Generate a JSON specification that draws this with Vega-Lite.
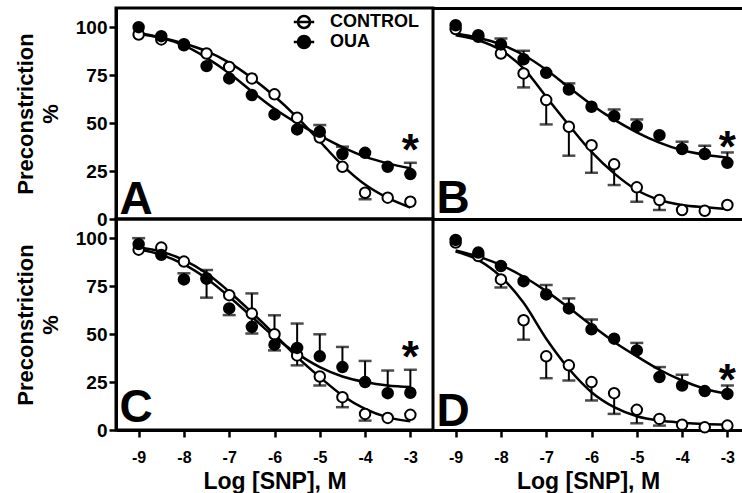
{
"$schema": "https://vega.github.io/schema/vega-lite/v6.json",
"background": "white",
"padding": {"left": 12, "top": 6, "right": 0, "bottom": 0},
"bounds": "flush",
"spacing": 0,
"columns": 2,
"align": "each",
"config": {
  "view": {"stroke": "black", "strokeWidth": 3},
  "axis": {"domainColor": "black", "domainWidth": 3, "tickColor": "black", "tickWidth": 2.5, "labelColor": "black", "labelFont": "Liberation Sans", "labelFontWeight": "bold", "titleFont": "Liberation Sans", "titleFontWeight": "bold", "titleColor": "black", "grid": false, "labelFlush": false, "labelOverlap": false},
  "axisY": {"labelFontSize": 19, "tickSize": 7, "labelPadding": 2, "titleFontSize": 22, "titleLineHeight": 25, "titlePadding": 13},
  "axisX": {"labelFontSize": 16, "labelPadding": 12, "titleFontSize": 23, "titlePadding": 5}
},
"datasets": {
"pts": [
{"p":"A","g":"CONTROL","x":-9,"y":96.2},{"p":"A","g":"CONTROL","x":-8.5,"y":93.6},{"p":"A","g":"CONTROL","x":-8,"y":90.6},{"p":"A","g":"CONTROL","x":-7.5,"y":86.3},{"p":"A","g":"CONTROL","x":-7,"y":79.3},{"p":"A","g":"CONTROL","x":-6.5,"y":73.3},{"p":"A","g":"CONTROL","x":-6,"y":65},{"p":"A","g":"CONTROL","x":-5.5,"y":52.8},{"p":"A","g":"CONTROL","x":-5,"y":42.5},{"p":"A","g":"CONTROL","x":-4.5,"y":27.2},{"p":"A","g":"CONTROL","x":-4,"y":13.7},{"p":"A","g":"CONTROL","x":-3.5,"y":11.1},{"p":"A","g":"CONTROL","x":-3,"y":9},
{"p":"A","g":"OUA","x":-9,"y":100},{"p":"A","g":"OUA","x":-8.5,"y":95.3},{"p":"A","g":"OUA","x":-8,"y":91.1},{"p":"A","g":"OUA","x":-7.5,"y":79.7},{"p":"A","g":"OUA","x":-7,"y":73.3},{"p":"A","g":"OUA","x":-6.5,"y":64.6},{"p":"A","g":"OUA","x":-6,"y":54.5},{"p":"A","g":"OUA","x":-5.5,"y":46.7},{"p":"A","g":"OUA","x":-5,"y":45.5},{"p":"A","g":"OUA","x":-4.5,"y":33.9},{"p":"A","g":"OUA","x":-4,"y":34.5},{"p":"A","g":"OUA","x":-3.5,"y":27.2},{"p":"A","g":"OUA","x":-3,"y":23.4},
{"p":"B","g":"CONTROL","x":-9,"y":99},{"p":"B","g":"CONTROL","x":-8.5,"y":95},{"p":"B","g":"CONTROL","x":-8,"y":86.3},{"p":"B","g":"CONTROL","x":-7.5,"y":75.9},{"p":"B","g":"CONTROL","x":-7,"y":62},{"p":"B","g":"CONTROL","x":-6.5,"y":48.1},{"p":"B","g":"CONTROL","x":-6,"y":38.5},{"p":"B","g":"CONTROL","x":-5.5,"y":28.5},{"p":"B","g":"CONTROL","x":-5,"y":16.5},{"p":"B","g":"CONTROL","x":-4.5,"y":9.9},{"p":"B","g":"CONTROL","x":-4,"y":4.7},{"p":"B","g":"CONTROL","x":-3.5,"y":4.3},{"p":"B","g":"CONTROL","x":-3,"y":7.3},
{"p":"B","g":"OUA","x":-9,"y":101},{"p":"B","g":"OUA","x":-8.5,"y":95.8},{"p":"B","g":"OUA","x":-8,"y":91},{"p":"B","g":"OUA","x":-7.5,"y":83.3},{"p":"B","g":"OUA","x":-7,"y":76.2},{"p":"B","g":"OUA","x":-6.5,"y":67.5},{"p":"B","g":"OUA","x":-6,"y":58.5},{"p":"B","g":"OUA","x":-5.5,"y":53.6},{"p":"B","g":"OUA","x":-5,"y":48.4},{"p":"B","g":"OUA","x":-4.5,"y":43.7},{"p":"B","g":"OUA","x":-4,"y":36.5},{"p":"B","g":"OUA","x":-3.5,"y":33.9},{"p":"B","g":"OUA","x":-3,"y":29.3},
{"p":"C","g":"CONTROL","x":-9,"y":94},{"p":"C","g":"CONTROL","x":-8.5,"y":95.1},{"p":"C","g":"CONTROL","x":-8,"y":87.8},{"p":"C","g":"CONTROL","x":-7.5,"y":79},{"p":"C","g":"CONTROL","x":-7,"y":70.3},{"p":"C","g":"CONTROL","x":-6.5,"y":60.7},{"p":"C","g":"CONTROL","x":-6,"y":49.9},{"p":"C","g":"CONTROL","x":-5.5,"y":38.9},{"p":"C","g":"CONTROL","x":-5,"y":27.9},{"p":"C","g":"CONTROL","x":-4.5,"y":17.1},{"p":"C","g":"CONTROL","x":-4,"y":8.4},{"p":"C","g":"CONTROL","x":-3.5,"y":6.3},{"p":"C","g":"CONTROL","x":-3,"y":7.9},
{"p":"C","g":"OUA","x":-9,"y":96.9},{"p":"C","g":"OUA","x":-8.5,"y":91.3},{"p":"C","g":"OUA","x":-8,"y":78.5},{"p":"C","g":"OUA","x":-7.5,"y":79},{"p":"C","g":"OUA","x":-7,"y":63.4},{"p":"C","g":"OUA","x":-6.5,"y":53.8},{"p":"C","g":"OUA","x":-6,"y":44.5},{"p":"C","g":"OUA","x":-5.5,"y":42.8},{"p":"C","g":"OUA","x":-5,"y":38.4},{"p":"C","g":"OUA","x":-4.5,"y":32.8},{"p":"C","g":"OUA","x":-4,"y":25},{"p":"C","g":"OUA","x":-3.5,"y":19.2},{"p":"C","g":"OUA","x":-3,"y":19.4},
{"p":"D","g":"CONTROL","x":-9,"y":97.7},{"p":"D","g":"CONTROL","x":-8.5,"y":90.7},{"p":"D","g":"CONTROL","x":-8,"y":78.5},{"p":"D","g":"CONTROL","x":-7.5,"y":57.2},{"p":"D","g":"CONTROL","x":-7,"y":38.4},{"p":"D","g":"CONTROL","x":-6.5,"y":33.7},{"p":"D","g":"CONTROL","x":-6,"y":25},{"p":"D","g":"CONTROL","x":-5.5,"y":19.2},{"p":"D","g":"CONTROL","x":-5,"y":10.5},{"p":"D","g":"CONTROL","x":-4.5,"y":5.8},{"p":"D","g":"CONTROL","x":-4,"y":2.8},{"p":"D","g":"CONTROL","x":-3.5,"y":1.4},{"p":"D","g":"CONTROL","x":-3,"y":2.3},
{"p":"D","g":"OUA","x":-9,"y":99.1},{"p":"D","g":"OUA","x":-8.5,"y":92.5},{"p":"D","g":"OUA","x":-8,"y":85.5},{"p":"D","g":"OUA","x":-7.5,"y":77.6},{"p":"D","g":"OUA","x":-7,"y":70.7},{"p":"D","g":"OUA","x":-6.5,"y":63.4},{"p":"D","g":"OUA","x":-6,"y":52.5},{"p":"D","g":"OUA","x":-5.5,"y":47.6},{"p":"D","g":"OUA","x":-5,"y":41.5},{"p":"D","g":"OUA","x":-4.5,"y":27.6},{"p":"D","g":"OUA","x":-4,"y":23.2},{"p":"D","g":"OUA","x":-3.5,"y":20.3},{"p":"D","g":"OUA","x":-3,"y":18.8}
],
"fit": [
{"p":"A","g":"CONTROL","x":-9,"y":96.5},{"p":"A","g":"CONTROL","x":-8.5,"y":94.5},{"p":"A","g":"CONTROL","x":-8,"y":91.5},{"p":"A","g":"CONTROL","x":-7.5,"y":87.5},{"p":"A","g":"CONTROL","x":-7,"y":81.5},{"p":"A","g":"CONTROL","x":-6.5,"y":73.5},{"p":"A","g":"CONTROL","x":-6,"y":64},{"p":"A","g":"CONTROL","x":-5.5,"y":53},{"p":"A","g":"CONTROL","x":-5,"y":40.5},{"p":"A","g":"CONTROL","x":-4.5,"y":28},{"p":"A","g":"CONTROL","x":-4,"y":18},{"p":"A","g":"CONTROL","x":-3.5,"y":11},{"p":"A","g":"CONTROL","x":-3,"y":6},
{"p":"A","g":"OUA","x":-9,"y":97},{"p":"A","g":"OUA","x":-8.5,"y":94.5},{"p":"A","g":"OUA","x":-8,"y":90.5},{"p":"A","g":"OUA","x":-7.5,"y":84},{"p":"A","g":"OUA","x":-7,"y":76},{"p":"A","g":"OUA","x":-6.5,"y":66.5},{"p":"A","g":"OUA","x":-6,"y":57.5},{"p":"A","g":"OUA","x":-5.5,"y":50},{"p":"A","g":"OUA","x":-5,"y":43.5},{"p":"A","g":"OUA","x":-4.5,"y":37.5},{"p":"A","g":"OUA","x":-4,"y":32.5},{"p":"A","g":"OUA","x":-3.5,"y":29},{"p":"A","g":"OUA","x":-3,"y":26.5},
{"p":"B","g":"CONTROL","x":-9,"y":95.8},{"p":"B","g":"CONTROL","x":-8.5,"y":93.2},{"p":"B","g":"CONTROL","x":-8,"y":88},{"p":"B","g":"CONTROL","x":-7.5,"y":78.5},{"p":"B","g":"CONTROL","x":-7,"y":63.7},{"p":"B","g":"CONTROL","x":-6.5,"y":49},{"p":"B","g":"CONTROL","x":-6,"y":35},{"p":"B","g":"CONTROL","x":-5.5,"y":23.8},{"p":"B","g":"CONTROL","x":-5,"y":15.1},{"p":"B","g":"CONTROL","x":-4.5,"y":9.9},{"p":"B","g":"CONTROL","x":-4,"y":7.3},{"p":"B","g":"CONTROL","x":-3.5,"y":6.1},{"p":"B","g":"CONTROL","x":-3,"y":5.2},
{"p":"B","g":"OUA","x":-9,"y":96.7},{"p":"B","g":"OUA","x":-8.5,"y":94.5},{"p":"B","g":"OUA","x":-8,"y":91},{"p":"B","g":"OUA","x":-7.5,"y":85.5},{"p":"B","g":"OUA","x":-7,"y":77.8},{"p":"B","g":"OUA","x":-6.5,"y":68.6},{"p":"B","g":"OUA","x":-6,"y":59.6},{"p":"B","g":"OUA","x":-5.5,"y":51.8},{"p":"B","g":"OUA","x":-5,"y":45.2},{"p":"B","g":"OUA","x":-4.5,"y":39.8},{"p":"B","g":"OUA","x":-4,"y":35.8},{"p":"B","g":"OUA","x":-3.5,"y":33.5},{"p":"B","g":"OUA","x":-3,"y":32},
{"p":"C","g":"CONTROL","x":-9,"y":95.1},{"p":"C","g":"CONTROL","x":-8.5,"y":93},{"p":"C","g":"CONTROL","x":-8,"y":88.6},{"p":"C","g":"CONTROL","x":-7.5,"y":81.7},{"p":"C","g":"CONTROL","x":-7,"y":72.1},{"p":"C","g":"CONTROL","x":-6.5,"y":61.3},{"p":"C","g":"CONTROL","x":-6,"y":49.9},{"p":"C","g":"CONTROL","x":-5.5,"y":38},{"p":"C","g":"CONTROL","x":-5,"y":27.6},{"p":"C","g":"CONTROL","x":-4.5,"y":18},{"p":"C","g":"CONTROL","x":-4,"y":11},{"p":"C","g":"CONTROL","x":-3.5,"y":6.6},{"p":"C","g":"CONTROL","x":-3,"y":4.5},
{"p":"C","g":"OUA","x":-9,"y":94.2},{"p":"C","g":"OUA","x":-8.5,"y":91.3},{"p":"C","g":"OUA","x":-8,"y":86.4},{"p":"C","g":"OUA","x":-7.5,"y":79},{"p":"C","g":"OUA","x":-7,"y":69.5},{"p":"C","g":"OUA","x":-6.5,"y":59},{"p":"C","g":"OUA","x":-6,"y":48.5},{"p":"C","g":"OUA","x":-5.5,"y":39.8},{"p":"C","g":"OUA","x":-5,"y":32.8},{"p":"C","g":"OUA","x":-4.5,"y":27.9},{"p":"C","g":"OUA","x":-4,"y":25},{"p":"C","g":"OUA","x":-3.5,"y":23.2},{"p":"C","g":"OUA","x":-3,"y":22.4},
{"p":"D","g":"CONTROL","x":-9,"y":93},{"p":"D","g":"CONTROL","x":-8.5,"y":88.6},{"p":"D","g":"CONTROL","x":-8,"y":79.9},{"p":"D","g":"CONTROL","x":-7.5,"y":66.3},{"p":"D","g":"CONTROL","x":-7,"y":47.6},{"p":"D","g":"CONTROL","x":-6.5,"y":31.9},{"p":"D","g":"CONTROL","x":-6,"y":19.7},{"p":"D","g":"CONTROL","x":-5.5,"y":11.9},{"p":"D","g":"CONTROL","x":-5,"y":7.2},{"p":"D","g":"CONTROL","x":-4.5,"y":4.9},{"p":"D","g":"CONTROL","x":-4,"y":3.8},{"p":"D","g":"CONTROL","x":-3.5,"y":3.1},{"p":"D","g":"CONTROL","x":-3,"y":2.8},
{"p":"D","g":"OUA","x":-9,"y":93.6},{"p":"D","g":"OUA","x":-8.5,"y":90.4},{"p":"D","g":"OUA","x":-8,"y":86},{"p":"D","g":"OUA","x":-7.5,"y":79.9},{"p":"D","g":"OUA","x":-7,"y":72.4},{"p":"D","g":"OUA","x":-6.5,"y":63.7},{"p":"D","g":"OUA","x":-6,"y":54.6},{"p":"D","g":"OUA","x":-5.5,"y":45.9},{"p":"D","g":"OUA","x":-5,"y":38.4},{"p":"D","g":"OUA","x":-4.5,"y":31.4},{"p":"D","g":"OUA","x":-4,"y":25.8},{"p":"D","g":"OUA","x":-3.5,"y":21.5},{"p":"D","g":"OUA","x":-3,"y":18.8}
],
"err": [
{"p":"A","g":"OUA","x":-5,"y":45.5,"cap":49},{"p":"A","g":"OUA","x":-4.5,"y":33.9,"cap":37.7},{"p":"A","g":"OUA","x":-3,"y":23.4,"cap":29.3},{"p":"A","g":"CONTROL","x":-4,"y":13.7,"cap":10.3},
{"p":"B","g":"OUA","x":-8,"y":91,"cap":94.1},{"p":"B","g":"OUA","x":-7.5,"y":83.3,"cap":87.7},{"p":"B","g":"OUA","x":-6.5,"y":67.5,"cap":70.7},{"p":"B","g":"OUA","x":-5.5,"y":53.6,"cap":57.1},{"p":"B","g":"OUA","x":-5,"y":48.4,"cap":51.9},{"p":"B","g":"OUA","x":-4,"y":36.5,"cap":40.3},{"p":"B","g":"OUA","x":-3.5,"y":33.9,"cap":38.2},{"p":"B","g":"OUA","x":-3,"y":29.3,"cap":34.7},
{"p":"B","g":"CONTROL","x":-7.5,"y":75.9,"cap":68.6},{"p":"B","g":"CONTROL","x":-7,"y":62,"cap":49.3},{"p":"B","g":"CONTROL","x":-6.5,"y":48.1,"cap":33},{"p":"B","g":"CONTROL","x":-6,"y":38.5,"cap":24.1},{"p":"B","g":"CONTROL","x":-5.5,"y":28.5,"cap":17.7},{"p":"B","g":"CONTROL","x":-5,"y":16.5,"cap":9},{"p":"B","g":"CONTROL","x":-4.5,"y":9.9,"cap":4.7},
{"p":"C","g":"OUA","x":-9,"y":96.9,"cap":100},{"p":"C","g":"OUA","x":-8,"y":78.5,"cap":81.7},{"p":"C","g":"OUA","x":-7.5,"y":79,"cap":83.4},{"p":"C","g":"OUA","x":-7,"y":63.4,"cap":59.9},{"p":"C","g":"OUA","x":-6.5,"y":53.8,"cap":71.2},{"p":"C","g":"OUA","x":-6.5,"y":53.8,"cap":50.3},{"p":"C","g":"OUA","x":-6,"y":44.5,"cap":41.5},{"p":"C","g":"OUA","x":-5.5,"y":42.8,"cap":55.5},{"p":"C","g":"OUA","x":-5,"y":38.4,"cap":49.9},{"p":"C","g":"OUA","x":-4.5,"y":32.8,"cap":43.3},{"p":"C","g":"OUA","x":-4,"y":25,"cap":36},{"p":"C","g":"OUA","x":-3.5,"y":19.2,"cap":31},{"p":"C","g":"OUA","x":-3,"y":19.4,"cap":31.4},
{"p":"C","g":"CONTROL","x":-7.5,"y":79,"cap":69},{"p":"C","g":"CONTROL","x":-6,"y":49.9,"cap":59.8},{"p":"C","g":"CONTROL","x":-5.5,"y":38.9,"cap":33.7},{"p":"C","g":"CONTROL","x":-5,"y":27.9,"cap":23.2},{"p":"C","g":"CONTROL","x":-4.5,"y":17.1,"cap":11.9},{"p":"C","g":"CONTROL","x":-4,"y":8.4,"cap":4.9},
{"p":"D","g":"OUA","x":-7,"y":70.7,"cap":75.6},{"p":"D","g":"OUA","x":-6.5,"y":63.4,"cap":68.6},{"p":"D","g":"OUA","x":-6,"y":52.5,"cap":57.6},{"p":"D","g":"OUA","x":-5,"y":41.5,"cap":45.4},{"p":"D","g":"OUA","x":-4.5,"y":27.6,"cap":32.8},{"p":"D","g":"OUA","x":-4,"y":23.2,"cap":28.8},{"p":"D","g":"OUA","x":-3,"y":18.8,"cap":23.2},
{"p":"D","g":"CONTROL","x":-8,"y":78.5,"cap":74.3},{"p":"D","g":"CONTROL","x":-7.5,"y":57.2,"cap":47.1},{"p":"D","g":"CONTROL","x":-7,"y":38.4,"cap":27},{"p":"D","g":"CONTROL","x":-6.5,"y":33.7,"cap":25.8},{"p":"D","g":"CONTROL","x":-6,"y":25,"cap":15.4},{"p":"D","g":"CONTROL","x":-5.5,"y":19.2,"cap":8.4},{"p":"D","g":"CONTROL","x":-5,"y":10.5,"cap":3.5},{"p":"D","g":"CONTROL","x":-4.5,"y":5.8,"cap":2.3}
]
},
"concat": [
{
 "width": 317, "height": 211,
 "layer": [
  {"data": {"name": "fit"}, "transform": [{"filter": "datum.p === 'A'"}], "mark": {"type": "line", "interpolate": "monotone", "color": "black", "strokeWidth": 2.5},
   "encoding": {"x": {"field": "x", "type": "quantitative", "scale": {"domain": [-9.5, -2.5], "nice": false, "zero": false}, "axis": null},
                "y": {"field": "y", "type": "quantitative", "scale": {"domain": [0, 110], "nice": false, "zero": false}, "axis": {"values": [0, 25, 50, 75, 100], "title": ["Preconstriction", "%"]}},
                "detail": {"field": "g"}}},
  {"data": {"name": "err"}, "transform": [{"filter": "datum.p === 'A'"}], "mark": {"type": "rule", "color": "black", "strokeWidth": 2},
   "encoding": {"x": {"field": "x", "type": "quantitative", "axis": null}, "y": {"field": "y", "type": "quantitative"}, "y2": {"field": "cap"}}},
  {"data": {"name": "err"}, "transform": [{"filter": "datum.p === 'A'"}], "mark": {"type": "tick", "orient": "horizontal", "color": "black", "size": 13, "thickness": 2.5},
   "encoding": {"x": {"field": "x", "type": "quantitative", "axis": null}, "y": {"field": "cap", "type": "quantitative"}}},
  {"data": {"name": "pts"}, "transform": [{"filter": "datum.p === 'A'"}], "mark": {"type": "point", "shape": "circle", "filled": true, "size": 110, "stroke": "black", "strokeWidth": 2, "opacity": 1},
   "encoding": {"x": {"field": "x", "type": "quantitative", "axis": null}, "y": {"field": "y", "type": "quantitative"},
                "fill": {"field": "g", "type": "nominal", "scale": {"domain": ["CONTROL", "OUA"], "range": ["white", "black"]},
                         "legend": {"orient": "none", "legendX": 179, "legendY": 5, "title": null, "symbolType": "M-1.7,0L1.7,0M1,0A1,1,0,1,1,-1,0A1,1,0,1,1,1,0Z", "symbolSize": 144, "symbolStrokeColor": "black", "symbolStrokeWidth": 2.5, "symbolOpacity": 1, "labelOffset": 17, "rowPadding": -8, "padding": 0, "labelFontSize": 18, "labelFont": "Liberation Sans", "labelFontWeight": "bold", "labelColor": "black"}},
                "order": {"field": "g", "sort": "ascending"}}},
  {"data": {"values": [{}]}, "mark": {"type": "text", "font": "Liberation Sans", "fontWeight": "bold", "fontSize": 46, "align": "left", "baseline": "alphabetic", "color": "black"},
   "encoding": {"x": {"datum": -9.42}, "y": {"datum": 2.5}, "text": {"value": "A"}}},
  {"data": {"values": [{}]}, "mark": {"type": "text", "font": "Liberation Sans", "fontWeight": "bold", "fontSize": 44, "align": "center", "baseline": "alphabetic", "color": "black"},
   "encoding": {"x": {"datum": -3}, "y": {"datum": 28.1}, "text": {"value": "*"}}}
 ]
},
{
 "width": 310, "height": 211,
 "view": {"stroke": null},
 "resolve": {"axis": {"x": "independent"}},
 "layer": [
  {"data": {"name": "fit"}, "transform": [{"filter": "datum.p === 'B'"}], "mark": {"type": "line", "interpolate": "monotone", "color": "black", "strokeWidth": 2.5},
   "encoding": {"x": {"field": "x", "type": "quantitative", "scale": {"domain": [-9.5, -2.655], "nice": false, "zero": false}, "axis": {"orient": "bottom", "domain": true, "ticks": false, "labels": false, "title": null}},
                "y": {"field": "y", "type": "quantitative", "scale": {"domain": [0, 110], "nice": false, "zero": false}, "axis": null},
                "detail": {"field": "g"}}},
  {"data": {"name": "err"}, "transform": [{"filter": "datum.p === 'B'"}], "mark": {"type": "rule", "color": "black", "strokeWidth": 2},
   "encoding": {"x": {"field": "x", "type": "quantitative", "axis": null}, "y": {"field": "y", "type": "quantitative", "axis": null}, "y2": {"field": "cap"}}},
  {"data": {"name": "err"}, "transform": [{"filter": "datum.p === 'B'"}], "mark": {"type": "tick", "orient": "horizontal", "color": "black", "size": 13, "thickness": 2.5},
   "encoding": {"x": {"field": "x", "type": "quantitative", "axis": null}, "y": {"field": "cap", "type": "quantitative", "axis": null}}},
  {"data": {"name": "pts"}, "transform": [{"filter": "datum.p === 'B'"}], "mark": {"type": "point", "shape": "circle", "filled": true, "size": 110, "stroke": "black", "strokeWidth": 2, "opacity": 1},
   "encoding": {"x": {"field": "x", "type": "quantitative", "axis": {"orient": "top", "domain": true, "ticks": false, "labels": false, "title": null}}, "y": {"field": "y", "type": "quantitative", "axis": null},
                "fill": {"field": "g", "type": "nominal", "scale": {"domain": ["CONTROL", "OUA"], "range": ["white", "black"]},
                         "legend": {"orient": "none", "legendX": 179, "legendY": 5, "title": null, "symbolType": "M-1.7,0L1.7,0M1,0A1,1,0,1,1,-1,0A1,1,0,1,1,1,0Z", "symbolSize": 144, "symbolStrokeColor": "black", "symbolStrokeWidth": 2.5, "symbolOpacity": 1, "labelOffset": 17, "rowPadding": -8, "padding": 0, "labelFontSize": 18, "labelFont": "Liberation Sans", "labelFontWeight": "bold", "labelColor": "black"}},
                "order": {"field": "g", "sort": "ascending"}}},
  {"data": {"values": [{}]}, "mark": {"type": "text", "font": "Liberation Sans", "fontWeight": "bold", "fontSize": 46, "align": "left", "baseline": "alphabetic", "color": "black"},
   "encoding": {"x": {"datum": -9.42, "axis": null}, "y": {"datum": 3, "axis": null}, "text": {"value": "B"}}},
  {"data": {"values": [{}]}, "mark": {"type": "text", "font": "Liberation Sans", "fontWeight": "bold", "fontSize": 44, "align": "center", "baseline": "alphabetic", "color": "black"},
   "encoding": {"x": {"datum": -3, "axis": null}, "y": {"datum": 29.8, "axis": null}, "text": {"value": "*"}}}
 ]
},
{
 "width": 317, "height": 211,
 "layer": [
  {"data": {"name": "fit"}, "transform": [{"filter": "datum.p === 'C'"}], "mark": {"type": "line", "interpolate": "monotone", "color": "black", "strokeWidth": 2.5},
   "encoding": {"x": {"field": "x", "type": "quantitative", "scale": {"domain": [-9.5, -2.5], "nice": false, "zero": false}, "axis": {"values": [-9, -8.5, -8, -7.5, -7, -6.5, -6, -5.5, -5, -4.5, -4, -3.5, -3], "labelExpr": "datum.value % 1 === 0 ? '-' + abs(datum.value) : ''", "tickSize": {"condition": {"test": "datum.value % 1 === 0", "value": 7}, "value": 4}, "title": "Log [SNP], M"}},
                "y": {"field": "y", "type": "quantitative", "scale": {"domain": [0, 110], "nice": false, "zero": false}, "axis": {"values": [0, 25, 50, 75, 100], "title": ["Preconstriction", "%"]}},
                "detail": {"field": "g"}}},
  {"data": {"name": "err"}, "transform": [{"filter": "datum.p === 'C'"}], "mark": {"type": "rule", "color": "black", "strokeWidth": 2},
   "encoding": {"x": {"field": "x", "type": "quantitative"}, "y": {"field": "y", "type": "quantitative"}, "y2": {"field": "cap"}}},
  {"data": {"name": "err"}, "transform": [{"filter": "datum.p === 'C'"}], "mark": {"type": "tick", "orient": "horizontal", "color": "black", "size": 13, "thickness": 2.5},
   "encoding": {"x": {"field": "x", "type": "quantitative"}, "y": {"field": "cap", "type": "quantitative"}}},
  {"data": {"name": "pts"}, "transform": [{"filter": "datum.p === 'C'"}], "mark": {"type": "point", "shape": "circle", "filled": true, "size": 110, "stroke": "black", "strokeWidth": 2, "opacity": 1},
   "encoding": {"x": {"field": "x", "type": "quantitative"}, "y": {"field": "y", "type": "quantitative"},
                "fill": {"field": "g", "type": "nominal", "scale": {"domain": ["CONTROL", "OUA"], "range": ["white", "black"]},
                         "legend": {"orient": "none", "legendX": 179, "legendY": 5, "title": null, "symbolType": "M-1.7,0L1.7,0M1,0A1,1,0,1,1,-1,0A1,1,0,1,1,1,0Z", "symbolSize": 144, "symbolStrokeColor": "black", "symbolStrokeWidth": 2.5, "symbolOpacity": 1, "labelOffset": 17, "rowPadding": -8, "padding": 0, "labelFontSize": 18, "labelFont": "Liberation Sans", "labelFontWeight": "bold", "labelColor": "black"}},
                "order": {"field": "g", "sort": "ascending"}}},
  {"data": {"values": [{}]}, "mark": {"type": "text", "font": "Liberation Sans", "fontWeight": "bold", "fontSize": 46, "align": "left", "baseline": "alphabetic", "color": "black"},
   "encoding": {"x": {"datum": -9.42}, "y": {"datum": 4}, "text": {"value": "C"}}},
  {"data": {"values": [{}]}, "mark": {"type": "text", "font": "Liberation Sans", "fontWeight": "bold", "fontSize": 44, "align": "center", "baseline": "alphabetic", "color": "black"},
   "encoding": {"x": {"datum": -3}, "y": {"datum": 30.2}, "text": {"value": "*"}}}
 ]
},
{
 "width": 310, "height": 211,
 "view": {"stroke": null},
 "layer": [
  {"data": {"name": "fit"}, "transform": [{"filter": "datum.p === 'D'"}], "mark": {"type": "line", "interpolate": "monotone", "color": "black", "strokeWidth": 2.5},
   "encoding": {"x": {"field": "x", "type": "quantitative", "scale": {"domain": [-9.5, -2.655], "nice": false, "zero": false}, "axis": {"values": [-9, -8.5, -8, -7.5, -7, -6.5, -6, -5.5, -5, -4.5, -4, -3.5, -3], "labelExpr": "datum.value % 1 === 0 ? '-' + abs(datum.value) : ''", "tickSize": {"condition": {"test": "datum.value % 1 === 0", "value": 7}, "value": 4}, "title": "Log [SNP], M"}},
                "y": {"field": "y", "type": "quantitative", "scale": {"domain": [0, 110], "nice": false, "zero": false}, "axis": null},
                "detail": {"field": "g"}}},
  {"data": {"name": "err"}, "transform": [{"filter": "datum.p === 'D'"}], "mark": {"type": "rule", "color": "black", "strokeWidth": 2},
   "encoding": {"x": {"field": "x", "type": "quantitative"}, "y": {"field": "y", "type": "quantitative", "axis": null}, "y2": {"field": "cap"}}},
  {"data": {"name": "err"}, "transform": [{"filter": "datum.p === 'D'"}], "mark": {"type": "tick", "orient": "horizontal", "color": "black", "size": 13, "thickness": 2.5},
   "encoding": {"x": {"field": "x", "type": "quantitative"}, "y": {"field": "cap", "type": "quantitative", "axis": null}}},
  {"data": {"name": "pts"}, "transform": [{"filter": "datum.p === 'D'"}], "mark": {"type": "point", "shape": "circle", "filled": true, "size": 110, "stroke": "black", "strokeWidth": 2, "opacity": 1},
   "encoding": {"x": {"field": "x", "type": "quantitative"}, "y": {"field": "y", "type": "quantitative", "axis": null},
                "fill": {"field": "g", "type": "nominal", "scale": {"domain": ["CONTROL", "OUA"], "range": ["white", "black"]},
                         "legend": {"orient": "none", "legendX": 179, "legendY": 5, "title": null, "symbolType": "M-1.7,0L1.7,0M1,0A1,1,0,1,1,-1,0A1,1,0,1,1,1,0Z", "symbolSize": 144, "symbolStrokeColor": "black", "symbolStrokeWidth": 2.5, "symbolOpacity": 1, "labelOffset": 17, "rowPadding": -8, "padding": 0, "labelFontSize": 18, "labelFont": "Liberation Sans", "labelFontWeight": "bold", "labelColor": "black"}},
                "order": {"field": "g", "sort": "ascending"}}},
  {"data": {"values": [{}]}, "mark": {"type": "text", "font": "Liberation Sans", "fontWeight": "bold", "fontSize": 46, "align": "left", "baseline": "alphabetic", "color": "black"},
   "encoding": {"x": {"datum": -9.42}, "y": {"datum": 2, "axis": null}, "text": {"value": "D"}}},
  {"data": {"values": [{}]}, "mark": {"type": "text", "font": "Liberation Sans", "fontWeight": "bold", "fontSize": 44, "align": "center", "baseline": "alphabetic", "color": "black"},
   "encoding": {"x": {"datum": -3}, "y": {"datum": 18, "axis": null}, "text": {"value": "*"}}}
 ]
}
]
}
